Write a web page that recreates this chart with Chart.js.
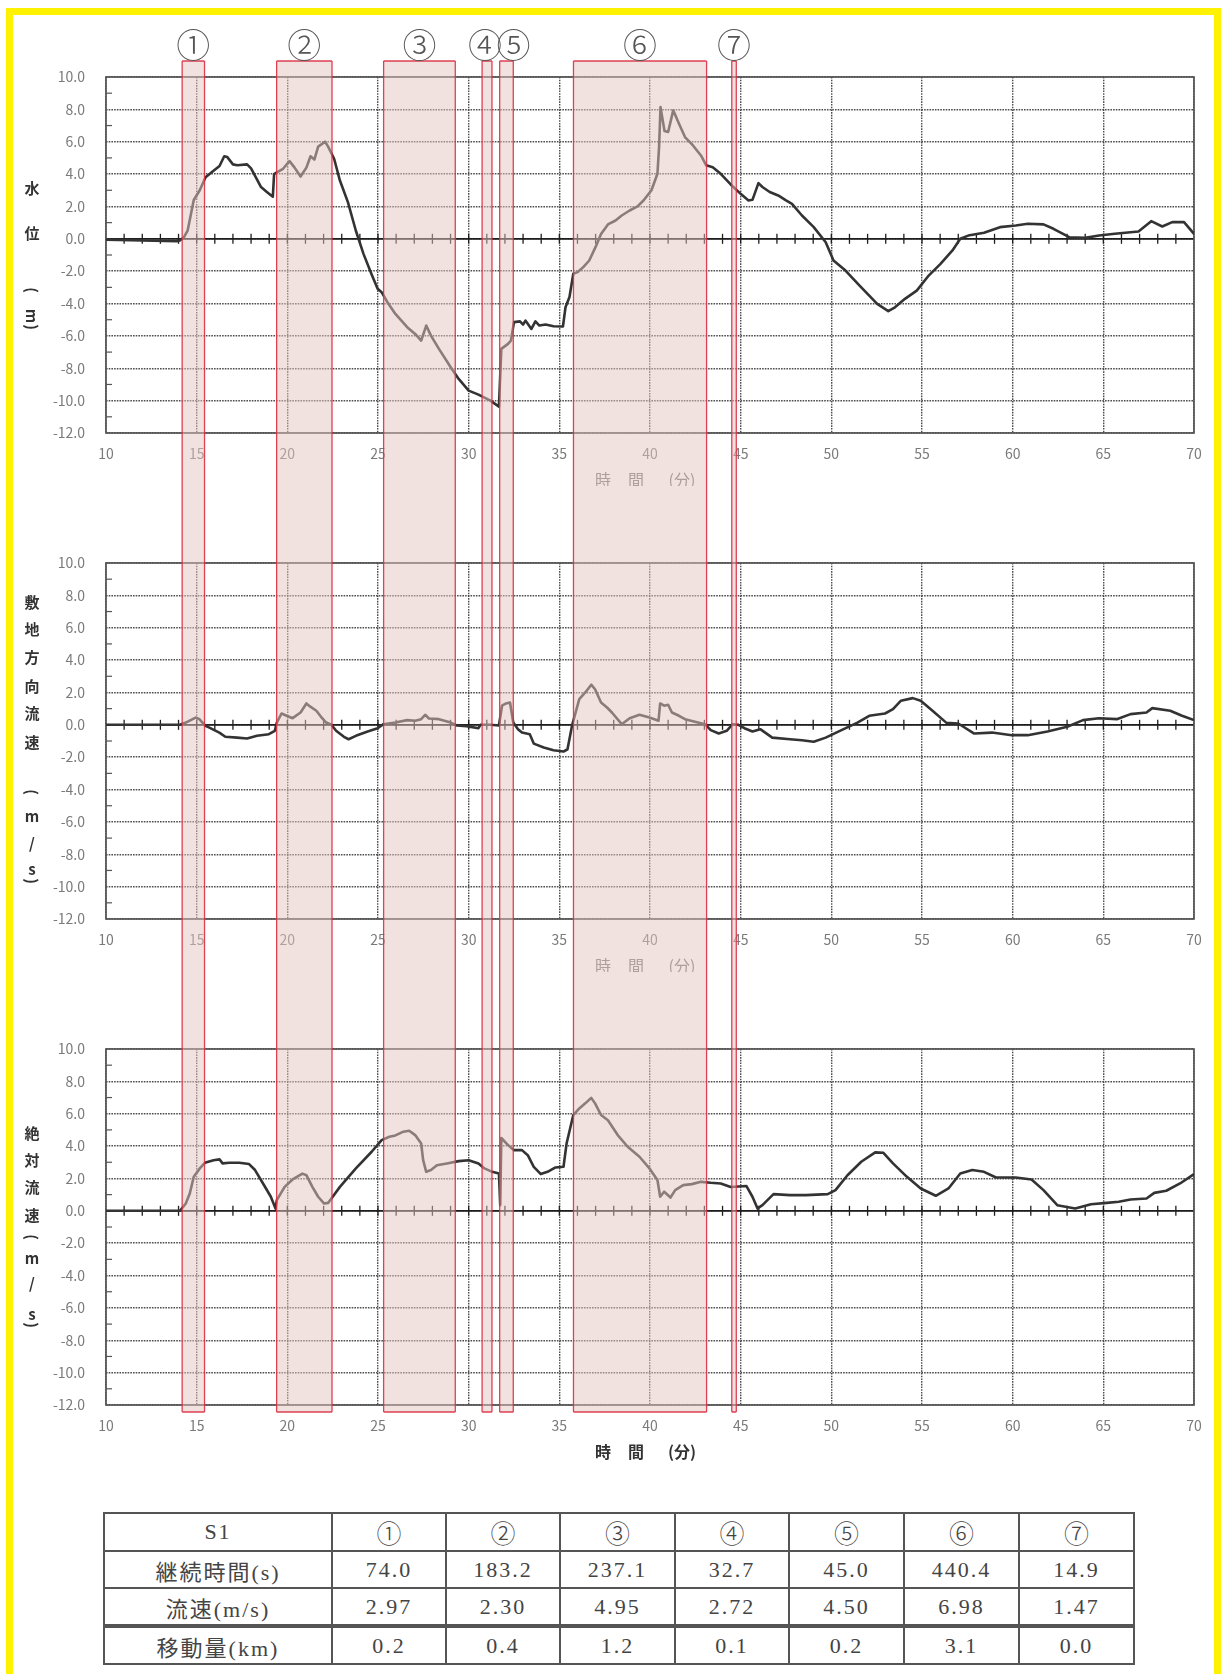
<!DOCTYPE html>
<html lang="ja">
<head>
<meta charset="utf-8">
<title>S1 水位・流速の時間変化</title>
<script src="https://cdn.jsdelivr.net/npm/chart.js@4.4.1/dist/chart.umd.min.js"></script>
<style>
  html, body { margin: 0; padding: 0; background: #fff; width: 1221px; height: 1674px; overflow: hidden; }
  #frame { position: absolute; left: 6px; top: 8px; width: 1215px; height: 1720px;
           border: 7px solid #fff200; box-sizing: border-box; }
  .panel { position: absolute; left: 0; width: 1221px; }
  #p1 { top: 0; height: 486px; }
  #p2 { top: 486px; height: 486px; }
  #p3 { top: 972px; height: 490px; }
  #summary { position: absolute; left: 103px; top: 1512px; width: 1030px;
             border-collapse: collapse; table-layout: fixed;
             font: 22px "Liberation Serif", "Noto Sans CJK JP", serif; color: #444; }
  #summary td { border: 2px solid #555; height: 35px; padding: 0; text-align: center;
                vertical-align: middle; letter-spacing: 2px; }
  #summary tr.sep td { border-bottom: 4px solid #555; }
  #summary td.circ { font: 300 25px "Noto Sans CJK JP", sans-serif; letter-spacing: 0; }
</style>
</head>
<body>
<div id="frame"></div>
<div class="panel" id="p1"><canvas id="c1"></canvas></div>
<div class="panel" id="p2"><canvas id="c2"></canvas></div>
<div class="panel" id="p3"><canvas id="c3"></canvas></div>
<table id="summary"></table>

<script>
// ---- axis ranges ----
const X_MIN = 10, X_MAX = 70, X_STEP = 5;
const Y_MIN = -12, Y_MAX = 10, Y_STEP = 2;

// ---- event segments (start in minutes, duration in seconds) ----
const segLabels   = ['①', '②', '③', '④', '⑤', '⑥', '⑦'];
const segStart    = [14.2, 19.41, 25.31, 30.74, 31.71, 35.78, 44.51];
const segDuration = [74.0, 183.2, 237.1, 32.7, 45.0, 440.4, 14.9];   // s
const segSpeed    = [2.97, 2.30, 4.95, 2.72, 4.50, 6.98, 1.47];      // m/s
const segDistance = [0.2, 0.4, 1.2, 0.1, 0.2, 3.1, 0.0];             // km

// ---- water level (m) : [minute, value] ----
const waterLevel = [
  [10,-0.05],[12,-0.1],[13.9,-0.15],[14.07,-0.1],[14.3,0.1],[14.5,0.5],[14.84,2.4],[15.17,3.0],
  [15.49,3.8],[15.93,4.2],[16.26,4.5],[16.52,5.1],[16.69,5.05],[17.0,4.6],[17.24,4.55],[17.78,4.6],
  [18.0,4.35],[18.55,3.2],[18.87,2.9],[19.2,2.6],[19.27,4.0],[19.42,4.1],[19.74,4.3],[20.12,4.8],
  [20.4,4.4],[20.73,3.85],[21.05,4.4],[21.28,5.1],[21.49,4.9],[21.7,5.7],[22.08,6.0],[22.25,5.7],
  [22.58,4.95],[22.9,3.6],[23.34,2.27],[23.78,0.5],[24.2,-0.93],[24.65,-2.2],[24.98,-3.09],[25.2,-3.3],
  [25.52,-3.92],[25.96,-4.64],[26.61,-5.46],[27.05,-5.88],[27.38,-6.29],[27.66,-5.36],[27.92,-5.98],
  [28.36,-6.8],[29.01,-7.94],[29.45,-8.66],[30.0,-9.38],[30.54,-9.63],[31.2,-10.0],[31.67,-10.37],
  [31.8,-6.8],[32.17,-6.49],[32.33,-6.29],[32.5,-5.15],[32.83,-5.1],[33.0,-5.3],[33.13,-5.05],
  [33.46,-5.57],[33.68,-5.1],[33.9,-5.36],[34.24,-5.3],[34.68,-5.4],[35.2,-5.42],[35.34,-4.23],
  [35.56,-3.6],[35.77,-2.16],[36.0,-2.06],[36.32,-1.75],[36.65,-1.34],[37.0,-0.5],[37.3,0.3],
  [37.68,0.89],[38.1,1.13],[38.44,1.44],[38.88,1.75],[39.31,2.0],[39.64,2.37],[40.08,3.0],[40.41,4.02],
  [40.5,5.67],[40.58,8.14],[40.8,6.66],[41.0,6.6],[41.28,7.94],[41.6,7.11],[41.93,6.29],[42.37,5.77],
  [42.81,5.15],[43.1,4.54],[43.46,4.43],[43.9,4.02],[44.45,3.36],[45.0,2.78],[45.43,2.37],[45.65,2.41],
  [45.98,3.44],[46.2,3.2],[46.6,2.89],[47.07,2.68],[47.5,2.37],[47.83,2.16],[48.38,1.44],[49.03,0.72],
  [49.69,-0.21],[50.12,-1.34],[50.78,-1.96],[51.65,-3.0],[52.53,-4.02],[53.14,-4.47],[53.51,-4.23],
  [54.06,-3.71],[54.71,-3.2],[55.37,-2.27],[56.02,-1.55],[56.68,-0.72],[57.11,0.0],[57.55,0.2],
  [58.42,0.37],[59.3,0.72],[60.17,0.82],[60.83,0.93],[61.7,0.89],[62.25,0.62],[63.12,0.1],[64.0,0.06],
  [64.76,0.2],[65.63,0.31],[66.94,0.45],[67.64,1.09],[68.25,0.76],[68.8,1.03],[69.45,1.03],[70,0.31]
];

// ---- flow velocity along the site direction (m/s) ----
const siteVelocity = [
  [10,0],[14.08,0],[14.4,0.14],[14.94,0.45],[15.15,0.35],[15.45,-0.04],[15.7,-0.17],[16.25,-0.48],
  [16.58,-0.74],[17.23,-0.79],[17.78,-0.85],[18.33,-0.68],[18.98,-0.58],[19.31,-0.37],[19.42,0.14],
  [19.68,0.7],[19.96,0.56],[20.29,0.41],[20.73,0.76],[21.05,1.32],[21.27,1.12],[21.6,0.87],[21.92,0.41],
  [22.14,0.14],[22.43,0],[22.69,-0.37],[23.12,-0.74],[23.38,-0.89],[23.78,-0.68],[24.43,-0.41],
  [24.98,-0.21],[25.3,0.04],[25.96,0.14],[26.61,0.29],[27.05,0.25],[27.38,0.35],[27.6,0.62],[27.81,0.39],
  [28.36,0.35],[29.01,0.14],[29.34,-0.04],[29.88,-0.08],[30.54,-0.21],[30.65,0],[31.2,0],[31.67,-0.04],
  [31.84,1.18],[32.06,1.32],[32.28,1.38],[32.46,0.14],[32.72,-0.27],[32.94,-0.48],[33.37,-0.58],
  [33.59,-1.16],[34.14,-1.4],[34.68,-1.57],[35.23,-1.65],[35.45,-1.51],[35.71,0],[36.1,1.59],[36.43,2.0],
  [36.76,2.48],[36.97,2.2],[37.3,1.38],[37.63,1.07],[37.9,0.76],[38.44,0.04],[38.88,0.41],[39.42,0.62],
  [39.97,0.45],[40.47,0.25],[40.56,1.32],[40.78,1.18],[41.0,1.24],[41.21,0.76],[41.6,0.56],[41.93,0.35],
  [42.48,0.19],[43.03,0.04],[43.35,-0.33],[43.79,-0.54],[44.23,-0.37],[44.56,0.04],[44.88,0],
  [45.21,-0.21],[45.65,-0.41],[46.08,-0.27],[46.74,-0.79],[47.72,-0.89],[48.38,-0.95],[49.03,-1.05],
  [49.69,-0.79],[50.56,-0.33],[51.44,0.14],[52.09,0.56],[52.96,0.7],[53.4,0.97],[53.84,1.49],
  [54.49,1.65],[54.93,1.49],[55.58,0.87],[56.35,0.12],[57.0,0.08],[57.88,-0.54],[58.86,-0.48],
  [59.95,-0.64],[60.83,-0.64],[61.92,-0.41],[63.01,-0.12],[63.88,0.29],[64.76,0.41],[65.74,0.35],
  [66.5,0.66],[67.38,0.76],[67.7,1.03],[68.69,0.87],[69.34,0.56],[70,0.29]
];

// ---- absolute flow velocity (m/s) ----
const absVelocity = [
  [10,0],[14.08,0],[14.4,0.45],[14.62,1.07],[14.84,2.1],[15.17,2.62],[15.45,2.97],[15.93,3.13],
  [16.26,3.18],[16.43,2.93],[16.8,2.97],[17.35,2.97],[17.89,2.89],[18.22,2.52],[18.66,1.69],[19.09,0.87],
  [19.35,0.14],[19.42,0.66],[19.85,1.48],[20.29,1.94],[20.83,2.30],[21.05,2.2],[21.38,1.48],[21.7,0.87],
  [22.03,0.45],[22.25,0.49],[22.43,0.76],[22.9,1.48],[23.78,2.62],[24.65,3.65],[25.2,4.37],[25.63,4.58],
  [25.96,4.66],[26.4,4.89],[26.72,4.95],[27.05,4.68],[27.38,4.16],[27.49,3.13],[27.66,2.41],[27.92,2.52],
  [28.25,2.82],[28.8,2.93],[29.45,3.07],[30.0,3.13],[30.54,2.93],[30.87,2.62],[31.3,2.41],[31.67,2.31],
  [31.74,0.35],[31.8,4.50],[32.17,4.06],[32.5,3.75],[32.94,3.75],[33.26,3.44],[33.59,2.72],[33.98,2.27],
  [34.35,2.41],[34.79,2.68],[35.23,2.72],[35.4,4.16],[35.77,5.92],[36.1,6.33],[36.43,6.64],[36.76,6.98],
  [36.97,6.64],[37.3,5.92],[37.68,5.6],[38.22,4.68],[38.77,3.96],[39.42,3.34],[39.97,2.62],[40.41,1.9],
  [40.56,0.87],[40.78,1.18],[41.13,0.82],[41.39,1.28],[41.83,1.59],[42.31,1.65],[42.81,1.79],[43.35,1.73],
  [43.9,1.69],[44.45,1.47],[45.32,1.53],[45.65,0.87],[45.93,0.14],[46.2,0.35],[46.81,1.03],[47.72,0.97],
  [48.6,0.97],[49.8,1.03],[50.23,1.28],[50.89,2.2],[51.65,3.03],[52.42,3.61],[52.86,3.59],[53.4,2.93],
  [54.17,2.1],[54.93,1.38],[55.76,0.93],[56.46,1.38],[57.11,2.31],[57.77,2.52],[58.42,2.41],[59.08,2.06],
  [60.17,2.06],[61.04,1.94],[61.7,1.28],[62.46,0.35],[63.45,0.14],[64.32,0.41],[65.19,0.49],[65.85,0.56],
  [66.5,0.7],[67.38,0.76],[67.81,1.11],[68.47,1.24],[69.23,1.69],[70,2.27]
];

// ---- axis titles (vertical text: char, offset from plot top, rotated) ----
const titleWaterLevel = [['水',111],['位',156],['(',213,true],['m',239,true],[')',250,true]];
const titleSiteVel = [['敷',39],['地',66],['方',94],['向',123],['流',150],['速',179],
                      ['(',229,true],['m',253],['/',280],['s',306],[')',318,true]];
const titleAbsVel = [['絶',84],['対',111],['流',138],['速',166],
                     ['(',188,true],['m',209],['/',234],['s',265],[')',276,true]];

const FONT = '"Noto Sans CJK JP", "Noto Sans", sans-serif';
Chart.defaults.font.family = FONT;

const GRID_COLOR = 'rgba(60,60,60,0.9)';
const toXY = arr => arr.map(([x, y]) => ({ x, y }));

// zero axis with minute ticks, frame, titles and event bands
const decorPlugin = {
  id: 'decor',
  beforeDatasetsDraw(chart) {
    const { ctx, chartArea: a, scales: { x, y } } = chart;
    ctx.save();
    const y0 = y.getPixelForValue(0);
    ctx.strokeStyle = '#1e1e1e';
    ctx.lineWidth = 1.7;
    ctx.beginPath(); ctx.moveTo(a.left, y0); ctx.lineTo(a.right, y0); ctx.stroke();
    ctx.lineWidth = 1.3;
    for (let m = X_MIN + 1; m < X_MAX; m++) {
      const px = x.getPixelForValue(m);
      ctx.beginPath(); ctx.moveTo(px, y0 - 5); ctx.lineTo(px, y0 + 5); ctx.stroke();
    }
    ctx.strokeStyle = '#555';
    ctx.lineWidth = 1.2;
    for (let v = Y_MIN + 1; v < Y_MAX; v += 2) {
      const py = y.getPixelForValue(v);
      ctx.beginPath(); ctx.moveTo(a.left, py); ctx.lineTo(a.left + 6, py); ctx.stroke();
    }
    ctx.strokeStyle = '#555';
    ctx.lineWidth = 1.7;
    ctx.strokeRect(a.left, a.top, a.right - a.left, a.bottom - a.top);
    ctx.restore();
  },
  afterDraw(chart, args, o) {
    const { ctx, chartArea: a, scales: { x } } = chart;
    ctx.save();
    // vertical axis title
    ctx.fillStyle = '#333';
    ctx.font = 'bold 15px ' + FONT;
    ctx.textAlign = 'center';
    ctx.textBaseline = 'middle';
    for (const [ch, dy, rot] of o.yTitle) {
      ctx.save();
      ctx.translate(32, a.top + dy);
      if (rot) ctx.rotate(Math.PI / 2);
      ctx.fillText(ch, 0, 0);
      ctx.restore();
    }
    // horizontal axis title
    const cx = (a.left + a.right) / 2;
    const ty = a.bottom + 47;
    ctx.fillStyle = o.xTitleBold ? '#333' : '#777';
    ctx.font = (o.xTitleBold ? 'bold ' : '') + '16px ' + FONT;
    ctx.fillText('時', cx - 47, ty);
    ctx.fillText('間', cx - 14, ty);
    ctx.fillText('(分)', cx + 32, ty);

    // event bands
    const top = o.bandTop;
    const bottom = o.bandBottom == null ? chart.height : o.bandBottom;
    for (let i = 0; i < segStart.length; i++) {
      const x1 = x.getPixelForValue(segStart[i]);
      const x2 = x.getPixelForValue(segStart[i] + segDuration[i] / 60);
      ctx.fillStyle = 'rgba(228,198,192,0.5)';
      ctx.fillRect(x1, top, x2 - x1, bottom - top);
      ctx.strokeStyle = 'rgba(220,45,65,0.9)';
      ctx.lineWidth = 1.3;
      ctx.beginPath();
      ctx.moveTo(x1, top); ctx.lineTo(x1, bottom);
      ctx.moveTo(x2, top); ctx.lineTo(x2, bottom);
      if (o.edgeTop) { ctx.moveTo(x1, top); ctx.lineTo(x2, top); }
      if (o.edgeBottom) { ctx.moveTo(x1, bottom); ctx.lineTo(x2, bottom); }
      ctx.stroke();
      if (o.labels) {
        const nudge = [0, 0, 0, -2, 7, 0, 0][i];
        ctx.fillStyle = '#555';
        ctx.font = '300 34px ' + FONT;
        ctx.fillText(segLabels[i], (x1 + x2) / 2 + nudge, 45);
      }
    }
    ctx.restore();
  }
};

function makeChart(id, series, xAxisHeight, decor) {
  return new Chart(document.getElementById(id), {
    type: 'line',
    data: {
      datasets: [{
        data: toXY(series),
        borderColor: '#333',
        borderWidth: 2.6,
        pointRadius: 0,
        tension: 0,
        borderJoinStyle: 'round',
        fill: false
      }]
    },
    options: {
      responsive: true,
      maintainAspectRatio: false,
      devicePixelRatio: 1,
      animation: false,
      events: [],
      layout: { padding: { top: 77, right: 27, left: 0, bottom: 0 } },
      plugins: { legend: { display: false }, tooltip: { enabled: false }, decor },
      scales: {
        x: {
          type: 'linear', min: X_MIN, max: X_MAX,
          ticks: { stepSize: X_STEP, color: '#7a7a7a', font: { size: 14 }, padding: 12, maxRotation: 0 },
          grid: { color: GRID_COLOR, lineWidth: 1.4, drawTicks: false },
          border: { display: false, dash: [1.6, 1.1] },
          afterFit: s => { s.height = xAxisHeight; }
        },
        y: {
          type: 'linear', min: Y_MIN, max: Y_MAX,
          ticks: { stepSize: Y_STEP, color: '#7a7a7a', font: { size: 14 }, padding: 21,
                   callback: v => Number(v).toFixed(1) },
          grid: { color: GRID_COLOR, lineWidth: 1.5, drawTicks: false },
          border: { display: false, dash: [1.6, 1.1] },
          afterFit: s => { s.width = 106; }
        }
      }
    },
    plugins: [decorPlugin]
  });
}

makeChart('c1', waterLevel, 53,
  { yTitle: titleWaterLevel, xTitleBold: false, bandTop: 61, bandBottom: null, edgeTop: true, edgeBottom: false, labels: true });
makeChart('c2', siteVelocity, 53,
  { yTitle: titleSiteVel, xTitleBold: false, bandTop: 0, bandBottom: null, edgeTop: false, edgeBottom: false, labels: false });
makeChart('c3', absVelocity, 57,
  { yTitle: titleAbsVel, xTitleBold: true, bandTop: 0, bandBottom: 440, edgeTop: false, edgeBottom: true, labels: false });

// ---- summary table ----
const table = document.getElementById('summary');
const rows = [
  ['S1', ...segLabels],
  ['継続時間(s)', ...segDuration.map(v => v.toFixed(1))],
  ['流速(m/s)', ...segSpeed.map(v => v.toFixed(2))],
  ['移動量(km)', ...segDistance.map(v => v.toFixed(1))]
];
const colgroup = document.createElement('colgroup');
[228, 114, 114, 115, 114, 115, 115, 115].forEach(w => {
  const c = document.createElement('col'); c.style.width = w + 'px'; colgroup.appendChild(c);
});
table.appendChild(colgroup);
rows.forEach((r, ri) => {
  const tr = document.createElement('tr');
  if (ri === 2) tr.className = 'sep';
  r.forEach((cell, ci) => {
    const td = document.createElement('td');
    td.textContent = cell;
    if (ri === 0 && ci > 0) td.className = 'circ';
    tr.appendChild(td);
  });
  table.appendChild(tr);
});
</script>
</body>
</html>
